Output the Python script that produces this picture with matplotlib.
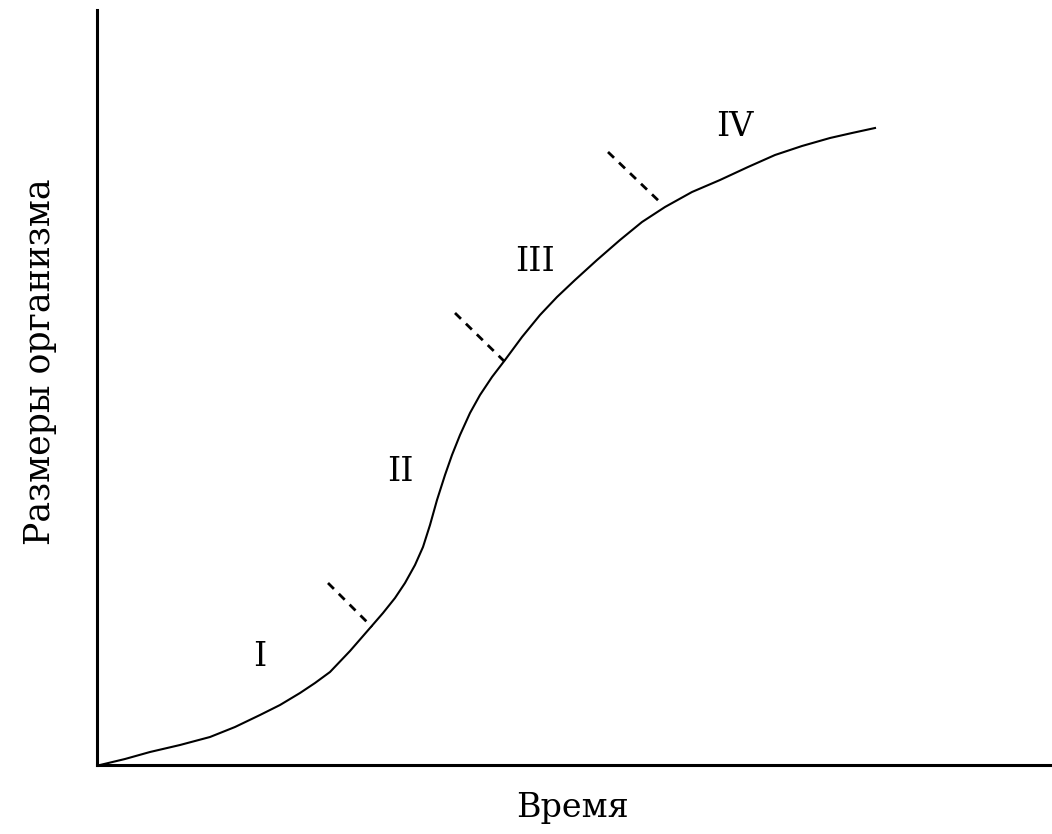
import numpy as np
import matplotlib.pyplot as plt

# growth curve
time = [0.03, 0.28, 0.53, 0.83, 1.13, 1.38, 1.63, 1.83, 2.03, 2.18, 2.33, 2.53,
        2.73, 2.86, 2.98, 3.08, 3.18, 3.26, 3.33, 3.40, 3.48, 3.55, 3.63, 3.73,
        3.83, 3.95, 4.08, 4.25, 4.43, 4.60, 4.78, 5.00, 5.23, 5.45, 5.68, 5.95,
        6.23, 6.51, 6.78, 7.05, 7.33, 7.55, 7.78]
size = [0.00, 0.06, 0.13, 0.20, 0.28, 0.38, 0.50, 0.60, 0.72, 0.82, 0.93, 1.14,
        1.37, 1.52, 1.67, 1.82, 2.00, 2.18, 2.40, 2.65, 2.90, 3.10, 3.30, 3.52,
        3.70, 3.88, 4.05, 4.28, 4.50, 4.68, 4.85, 5.05, 5.25, 5.43, 5.58, 5.73,
        5.85, 5.98, 6.10, 6.19, 6.27, 6.32, 6.37]

# dashed boundaries between phases: (x0, y0, x1, y1)
bounds = [(2.31, 1.82, 2.75, 1.38),
          (3.58, 4.52, 4.08, 4.03),
          (5.11, 6.13, 5.66, 5.60)]

phases = ['I', 'II', 'III', 'IV']
phase_x = [1.63, 3.03, 4.38, 6.38]
phase_y = [1.08, 2.93, 5.03, 6.38]

font = 'DejaVu Serif'

fig = plt.figure(figsize=(10.52, 8.34), dpi=100)
ax = fig.add_axes([97/1052, 69/834, 955/1052, 755/834])

ax.plot(time, size, color='black', lw=1.5, solid_joinstyle='round')
for x0, y0, x1, y1 in bounds:
    ax.plot([x0, x1], [y0, y1], color='black', lw=2, linestyle=(0, (3, 2.5)))

for t, px, py in zip(phases, phase_x, phase_y):
    ax.text(px, py, t, fontsize=24, family=font, ha='center', va='center')

ax.set_xlim(0, 9.55)
ax.set_ylim(0, 7.55)
for s in ['top', 'right']:
    ax.spines[s].set_visible(False)
for s in ['left', 'bottom']:
    ax.spines[s].set_linewidth(2.2)
ax.set_xticks([])
ax.set_yticks([])

fig.text(572/1052, 1 - 808/834, 'Время', fontsize=24, family=font,
         ha='center', va='center')
fig.text(40/1052, 1 - 362/834, 'Размеры организма', fontsize=25, family=font,
         ha='center', va='center', rotation=90)

fig.savefig('out.png', dpi=100, facecolor='white')
